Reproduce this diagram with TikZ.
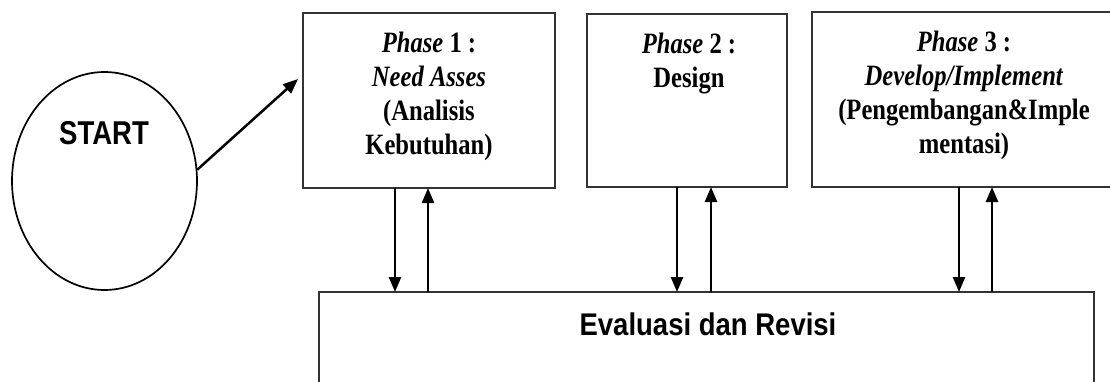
\documentclass[tikz,border=0pt]{standalone}
\usepackage{fontspec}
\usepackage{graphicx}
\setmainfont{Liberation Serif}
\setsansfont{Liberation Sans}
\usetikzlibrary{arrows.meta,shapes.geometric}

% tall narrow-looking lines, as in the printed scheme
\newcommand\tallstack[1]{\scalebox{1}[1.2]{\begin{tabular}[t]{@{}c@{}}#1\end{tabular}}}

\tikzset{
  phasebox/.style={draw=black!80, line width=2.8pt, rectangle, inner sep=0pt, outer sep=0pt},
  phasetext/.style={inner sep=0pt, anchor=base,
    font=\fontsize{24.6}{28.3}\selectfont\bfseries},
  flow/.style={line width=2.5pt, black, -{Triangle[length=15pt,width=12pt]}},
}

\begin{document}
\begin{tikzpicture}[x=1pt,y=-1pt]
  \useasboundingbox (0,0) rectangle (1110,382);
  \clip (0,0) rectangle (1110,382);
  \fill[white] (0,0) rectangle (1110,382);

  % start ellipse
  \node[ellipse, draw=black, line width=1.7pt, minimum width=185pt, minimum height=218pt,
        inner sep=0pt] (start) at (104.5,181) {};
  \node[inner sep=0pt, font=\fontsize{27.5}{32}\selectfont\sffamily\bfseries]
        (startlbl) at (104,133) {\scalebox{1}[1.2]{START}};

  % phase boxes
  \node[phasebox, minimum width=252pt, minimum height=175pt] (p1) at (429,100.5) {};
  \node[phasebox, minimum width=200pt, minimum height=173pt] (p2) at (687,100.5) {};
  \node[phasebox, minimum width=304pt, minimum height=175pt] (p3) at (964,99.5) {};

  \node[phasetext] (t1) at (429,53)
    {\tallstack{\textit{Phase} 1 :\\ \textit{Need Asses}\\ (Analisis\\ Kebutuhan)}};
  \node[phasetext] (t2) at (689,54)
    {\tallstack{\textit{Phase} 2 :\\ Design}};
  \node[phasetext] (t3) at (964,52)
    {\tallstack{\textit{Phase} 3 :\\ \textit{Develop/Implement}\\ (Pengembangan\&Imple\\ mentasi)}};

  % evaluation box (runs past the lower edge)
  \node[phasebox, minimum width=775pt, minimum height=128pt] (ev) at (706.5,356) {};
  \node[inner sep=0pt, font=\fontsize{27.5}{32}\selectfont\sffamily\bfseries]
        (evlbl) at (708,324) {\scalebox{1}[1.14]{Evaluasi dan Revisi}};

  % start -> phase 1
  \coordinate (p1in) at (298,79);
  \draw[flow] (start.7) -- (p1in);

  % phase <-> evaluation
  \draw[flow] ([xshift=92pt]p1.south west) -- ([xshift=92pt]p1.south west |- ev.north);
  \draw[flow] ([xshift=125pt]p1.south west |- ev.north) -- ([xshift=125pt]p1.south west);

  \draw[flow] ([xshift=90pt]p2.south west) -- ([xshift=90pt]p2.south west |- ev.north);
  \draw[flow] ([xshift=124pt]p2.south west |- ev.north) -- ([xshift=124pt]p2.south west);

  \draw[flow] ([xshift=147pt]p3.south west) -- ([xshift=147pt]p3.south west |- ev.north);
  \draw[flow] ([xshift=180pt]p3.south west |- ev.north) -- ([xshift=180pt]p3.south west);
\end{tikzpicture}
\end{document}
